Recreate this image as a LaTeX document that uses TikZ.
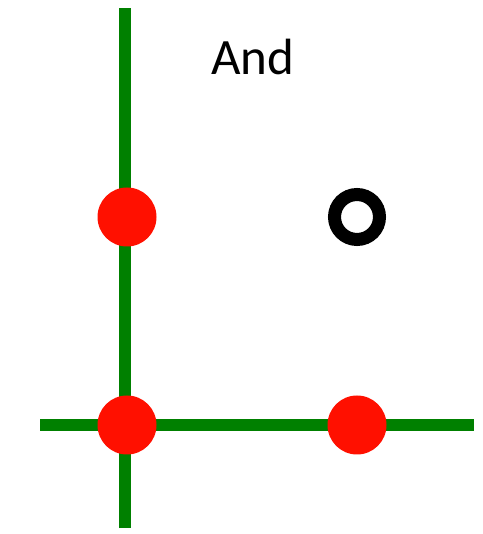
\documentclass[tikz,border=0pt]{standalone}
\usepackage{fontspec}
\setmainfont{Carlito}
\definecolor{axisgreen}{RGB}{0,128,0}
\definecolor{ptred}{RGB}{255,16,0}

\begin{document}
\begin{tikzpicture}[
 axis/.style={axisgreen,line width=0.24cm},
 truept/.style={circle,fill=ptred,inner sep=0pt,minimum size=1.18cm},
 falsept/.style={circle,draw=black,line width=0.26cm,inner sep=0pt,minimum size=0.9cm}]
\useasboundingbox (0,0) rectangle (9.64,10.68);
\coordinate (ytop) at (2.5,10.52);
\coordinate (ybot) at (2.5,0.12);
\coordinate (xleft) at (0.8,2.18);
\coordinate (xright) at (9.48,2.18);
\draw[axis] (ybot) -- (ytop);
\draw[axis] (xleft) -- (xright);
\node[truept] (p01) at (2.54,6.34) {};
\node[truept] (p00) at (2.54,2.18) {};
\node[truept] (p10) at (7.14,2.18) {};
\node[falsept] (p11) at (7.14,6.34) {};
\node[anchor=base,font=\fontsize{29}{34}\selectfont] (title) at (5.06,9.18) {And};
\end{tikzpicture}
\end{document}
